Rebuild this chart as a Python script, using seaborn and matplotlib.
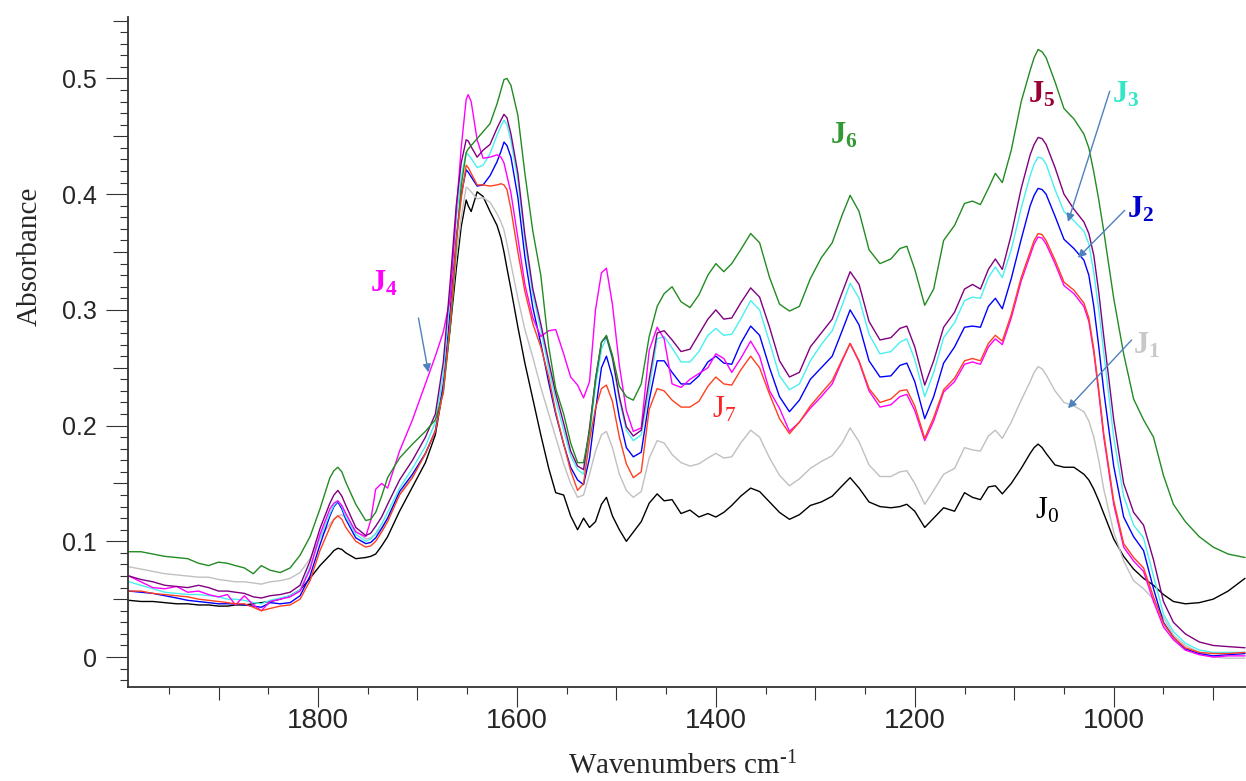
import numpy as np
import pandas as pd
import matplotlib
matplotlib.use("Agg")
import matplotlib.pyplot as plt
from matplotlib import font_manager as fm
from matplotlib.ticker import FixedLocator, FuncFormatter
import seaborn as sns

# ---------------------------------------------------------------- data
wavenumber = [
    1990, 1978, 1966, 1954, 1942, 1931, 1920, 1910, 1900, 1891, 1883, 1874, 1865, 1857, 1848, 1838, 1828, 1818,
    1808, 1798, 1788, 1784, 1780, 1776, 1772, 1762, 1752, 1747, 1742, 1736, 1730, 1718,
    1705, 1692, 1682, 1674, 1667, 1661, 1656, 1651, 1649, 1646, 1640,
    1634, 1627, 1620, 1616, 1613, 1610, 1606, 1599, 1592, 1584, 1576, 1568,
    1561, 1553, 1546, 1539, 1533, 1527, 1521, 1515, 1510, 1504,
    1497, 1490, 1483, 1475, 1467, 1459, 1452, 1444, 1435, 1426,
    1417, 1408, 1400, 1392, 1384, 1375, 1365, 1356, 1346, 1336,
    1326, 1316, 1305, 1294, 1283, 1273, 1265, 1256, 1246, 1235,
    1224, 1215, 1208, 1200, 1190, 1181, 1171, 1160, 1150, 1142,
    1134, 1126, 1119, 1112, 1103, 1093, 1084, 1080, 1076, 1072, 1068, 1059,
    1050, 1040, 1030, 1025, 1020, 1015, 1010, 1000, 990, 980, 970, 960,
    950, 940, 928, 914, 900, 885, 868,
]

j0 = [
    0.049, 0.048, 0.048, 0.047, 0.046, 0.046, 0.045, 0.045, 0.044, 0.044, 0.045, 0.045, 0.046, 0.047, 0.048, 0.050, 0.053, 0.058,
    0.068, 0.079, 0.088, 0.092, 0.094, 0.093, 0.090, 0.085, 0.086, 0.087, 0.089, 0.096, 0.104, 0.126,
    0.147, 0.168, 0.192, 0.233, 0.285, 0.335, 0.372, 0.395, 0.390, 0.385, 0.402,
    0.398, 0.385, 0.373, 0.362, 0.350, 0.336, 0.318, 0.285, 0.254, 0.223, 0.192, 0.163,
    0.142, 0.140, 0.122, 0.110, 0.120, 0.112, 0.117, 0.132, 0.138, 0.122,
    0.110, 0.100, 0.108, 0.117, 0.133, 0.141, 0.135, 0.136, 0.124, 0.127,
    0.121, 0.124, 0.121, 0.125, 0.131, 0.139, 0.146, 0.143, 0.134, 0.125,
    0.119, 0.123, 0.131, 0.134, 0.139, 0.148, 0.155, 0.146, 0.134, 0.130,
    0.129, 0.130, 0.132, 0.126, 0.112, 0.120, 0.129, 0.126, 0.142, 0.138,
    0.136, 0.147, 0.148, 0.141, 0.150, 0.163, 0.176, 0.181, 0.184, 0.181, 0.176, 0.166,
    0.164, 0.164, 0.158, 0.153, 0.145, 0.135, 0.124, 0.102, 0.087, 0.076, 0.068, 0.062,
    0.054, 0.048, 0.046, 0.047, 0.050, 0.057, 0.068,
]

j1 = [
    0.078, 0.076, 0.074, 0.072, 0.071, 0.070, 0.069, 0.069, 0.067, 0.066, 0.065, 0.065, 0.064, 0.063, 0.065, 0.066, 0.068, 0.073,
    0.085, 0.103, 0.115, 0.119, 0.122, 0.123, 0.120, 0.109, 0.102, 0.103, 0.106, 0.112, 0.120, 0.141,
    0.156, 0.175, 0.197, 0.238, 0.290, 0.345, 0.380, 0.406, 0.405, 0.402, 0.396,
    0.397, 0.393, 0.383, 0.376, 0.369, 0.357, 0.340, 0.310, 0.283, 0.259, 0.233, 0.210,
    0.190, 0.167, 0.150, 0.138, 0.140, 0.158, 0.178, 0.192, 0.195, 0.181,
    0.158, 0.144, 0.138, 0.143, 0.172, 0.187, 0.185, 0.175, 0.168, 0.165,
    0.167, 0.172, 0.176, 0.172, 0.173, 0.185, 0.196, 0.190, 0.172, 0.157,
    0.148, 0.154, 0.163, 0.169, 0.174, 0.185, 0.198, 0.186, 0.166, 0.156,
    0.156, 0.160, 0.161, 0.150, 0.132, 0.144, 0.158, 0.163, 0.181, 0.179,
    0.178, 0.191, 0.196, 0.189, 0.203, 0.222, 0.238, 0.246, 0.251, 0.249, 0.244, 0.230,
    0.220, 0.217, 0.212, 0.204, 0.190, 0.170, 0.145, 0.108, 0.083, 0.066, 0.059, 0.050,
    0.034, 0.019, 0.010, 0.004, 0.000, -0.001, -0.001,
]

j2 = [
    0.057, 0.056, 0.055, 0.053, 0.051, 0.049, 0.048, 0.047, 0.046, 0.046, 0.046, 0.045, 0.044, 0.043, 0.047, 0.046, 0.047, 0.053,
    0.070, 0.097, 0.122, 0.130, 0.134, 0.128, 0.119, 0.103, 0.098, 0.099, 0.103, 0.111, 0.120, 0.143,
    0.158, 0.176, 0.195, 0.235, 0.300, 0.362, 0.400, 0.421, 0.419, 0.415, 0.407,
    0.408, 0.416, 0.428, 0.437, 0.445, 0.442, 0.432, 0.397, 0.346, 0.302, 0.271, 0.237,
    0.210, 0.184, 0.164, 0.153, 0.149, 0.172, 0.213, 0.250, 0.260, 0.242,
    0.207, 0.181, 0.173, 0.177, 0.222, 0.256, 0.256, 0.246, 0.236, 0.236,
    0.243, 0.255, 0.260, 0.254, 0.253, 0.271, 0.286, 0.278, 0.250, 0.225,
    0.212, 0.222, 0.240, 0.250, 0.260, 0.282, 0.300, 0.287, 0.256, 0.242,
    0.243, 0.252, 0.254, 0.238, 0.206, 0.225, 0.254, 0.268, 0.285, 0.286,
    0.285, 0.303, 0.310, 0.301, 0.327, 0.361, 0.390, 0.399, 0.405, 0.404, 0.400, 0.381,
    0.361, 0.353, 0.343, 0.330, 0.303, 0.268, 0.230, 0.165, 0.121, 0.104, 0.092, 0.059,
    0.030, 0.017, 0.007, 0.003, 0.001, 0.002, 0.003,
]

j3 = [
    0.065, 0.062, 0.059, 0.056, 0.055, 0.054, 0.054, 0.053, 0.052, 0.050, 0.050, 0.049, 0.047, 0.046, 0.049, 0.051, 0.053, 0.058,
    0.078, 0.103, 0.124, 0.131, 0.135, 0.130, 0.121, 0.106, 0.100, 0.102, 0.107, 0.115, 0.125, 0.146,
    0.163, 0.182, 0.203, 0.245, 0.315, 0.378, 0.415, 0.436, 0.434, 0.431, 0.423,
    0.425, 0.435, 0.451, 0.459, 0.464, 0.460, 0.446, 0.412, 0.360, 0.313, 0.283, 0.249,
    0.222, 0.196, 0.174, 0.162, 0.158, 0.190, 0.234, 0.266, 0.276, 0.257,
    0.222, 0.196, 0.187, 0.192, 0.232, 0.275, 0.277, 0.267, 0.255, 0.255,
    0.264, 0.278, 0.284, 0.278, 0.279, 0.292, 0.308, 0.300, 0.272, 0.243,
    0.231, 0.236, 0.256, 0.270, 0.282, 0.304, 0.323, 0.310, 0.279, 0.262,
    0.264, 0.272, 0.275, 0.257, 0.225, 0.246, 0.276, 0.289, 0.308, 0.311,
    0.310, 0.328, 0.337, 0.328, 0.352, 0.388, 0.416, 0.426, 0.432, 0.431, 0.426, 0.404,
    0.385, 0.377, 0.368, 0.357, 0.332, 0.300, 0.263, 0.190, 0.139, 0.114, 0.103, 0.070,
    0.037, 0.022, 0.012, 0.006, 0.004, 0.004, 0.004,
]

j4 = [
    0.070, 0.065, 0.060, 0.059, 0.061, 0.056, 0.057, 0.054, 0.052, 0.054, 0.045, 0.053, 0.045, 0.040, 0.048, 0.050, 0.052, 0.057,
    0.076, 0.106, 0.128, 0.133, 0.135, 0.131, 0.124, 0.108, 0.104, 0.118, 0.145, 0.150, 0.146, 0.178,
    0.205, 0.236, 0.260, 0.281, 0.310, 0.385, 0.440, 0.482, 0.486, 0.480, 0.447,
    0.431, 0.432, 0.434, 0.432, 0.427, 0.416, 0.401, 0.362, 0.322, 0.293, 0.277, 0.282,
    0.283, 0.262, 0.242, 0.235, 0.224, 0.238, 0.300, 0.332, 0.336, 0.305,
    0.252, 0.213, 0.195, 0.198, 0.265, 0.285, 0.275, 0.236, 0.233, 0.240,
    0.245, 0.250, 0.262, 0.258, 0.246, 0.258, 0.273, 0.260, 0.230, 0.215,
    0.195, 0.203, 0.215, 0.225, 0.236, 0.256, 0.271, 0.255, 0.230, 0.216,
    0.218, 0.225, 0.227, 0.213, 0.187, 0.204, 0.229, 0.238, 0.253, 0.255,
    0.253, 0.268, 0.275, 0.270, 0.293, 0.325, 0.347, 0.357, 0.363, 0.362, 0.357, 0.340,
    0.321, 0.314, 0.303, 0.290, 0.263, 0.228, 0.190, 0.132, 0.095, 0.083, 0.074, 0.048,
    0.026, 0.015, 0.006, 0.002, 0.000, 0.001, 0.001,
]

j5 = [
    0.070, 0.067, 0.065, 0.062, 0.061, 0.060, 0.062, 0.060, 0.057, 0.057, 0.056, 0.055, 0.052, 0.051, 0.053, 0.054, 0.056, 0.062,
    0.083, 0.111, 0.133, 0.140, 0.144, 0.139, 0.131, 0.112, 0.105, 0.107, 0.113, 0.121, 0.132, 0.153,
    0.170, 0.190, 0.210, 0.255, 0.325, 0.390, 0.427, 0.447, 0.446, 0.441, 0.432,
    0.438, 0.443, 0.457, 0.464, 0.469, 0.466, 0.452, 0.418, 0.365, 0.318, 0.288, 0.255,
    0.228, 0.202, 0.178, 0.165, 0.162, 0.198, 0.240, 0.272, 0.277, 0.259,
    0.225, 0.199, 0.191, 0.196, 0.240, 0.280, 0.282, 0.274, 0.264, 0.266,
    0.279, 0.292, 0.300, 0.292, 0.293, 0.306, 0.319, 0.311, 0.285, 0.256,
    0.242, 0.246, 0.268, 0.280, 0.292, 0.315, 0.333, 0.322, 0.290, 0.274,
    0.276, 0.284, 0.286, 0.268, 0.235, 0.256, 0.285, 0.298, 0.318, 0.322,
    0.318, 0.335, 0.344, 0.335, 0.365, 0.405, 0.434, 0.443, 0.449, 0.448, 0.443, 0.423,
    0.400, 0.387, 0.376, 0.366, 0.347, 0.315, 0.277, 0.205, 0.150, 0.125, 0.114, 0.084,
    0.048, 0.030, 0.020, 0.013, 0.010, 0.009, 0.008,
]

j6 = [
    0.091, 0.091, 0.089, 0.087, 0.086, 0.085, 0.081, 0.079, 0.082, 0.081, 0.079, 0.077, 0.072, 0.079, 0.075, 0.073, 0.077, 0.088,
    0.104, 0.128, 0.155, 0.161, 0.164, 0.160, 0.151, 0.132, 0.118, 0.119, 0.125, 0.139, 0.155, 0.172,
    0.184, 0.195, 0.205, 0.228, 0.285, 0.355, 0.407, 0.436, 0.439, 0.442, 0.448,
    0.454, 0.461, 0.478, 0.490, 0.499, 0.500, 0.494, 0.468, 0.418, 0.368, 0.330, 0.268,
    0.232, 0.210, 0.185, 0.168, 0.168, 0.195, 0.240, 0.272, 0.278, 0.261,
    0.234, 0.225, 0.222, 0.236, 0.277, 0.303, 0.314, 0.320, 0.307, 0.302,
    0.313, 0.330, 0.340, 0.333, 0.340, 0.352, 0.366, 0.358, 0.328, 0.305,
    0.299, 0.303, 0.327, 0.345, 0.358, 0.382, 0.399, 0.385, 0.352, 0.340,
    0.344, 0.353, 0.355, 0.335, 0.304, 0.318, 0.360, 0.373, 0.392, 0.394,
    0.391, 0.405, 0.418, 0.410, 0.438, 0.480, 0.507, 0.518, 0.525, 0.523, 0.518, 0.497,
    0.474, 0.465, 0.452, 0.440, 0.419, 0.395, 0.368, 0.310, 0.262, 0.223, 0.205, 0.190,
    0.157, 0.132, 0.117, 0.104, 0.095, 0.089, 0.086,
]

j7 = [
    0.057, 0.057, 0.055, 0.054, 0.053, 0.052, 0.050, 0.049, 0.048, 0.047, 0.046, 0.046, 0.043, 0.040, 0.042, 0.044, 0.045, 0.050,
    0.066, 0.092, 0.112, 0.119, 0.122, 0.119, 0.112, 0.100, 0.095, 0.096, 0.100, 0.108, 0.117, 0.140,
    0.155, 0.176, 0.195, 0.230, 0.290, 0.360, 0.396, 0.425, 0.423, 0.418, 0.408,
    0.408, 0.407, 0.408, 0.409, 0.408, 0.404, 0.387, 0.350, 0.316, 0.288, 0.268, 0.242,
    0.212, 0.184, 0.161, 0.144, 0.150, 0.187, 0.215, 0.232, 0.235, 0.221,
    0.190, 0.167, 0.155, 0.160, 0.214, 0.232, 0.230, 0.222, 0.216, 0.216,
    0.221, 0.234, 0.242, 0.236, 0.235, 0.248, 0.260, 0.250, 0.227, 0.206,
    0.193, 0.203, 0.217, 0.228, 0.239, 0.257, 0.271, 0.256, 0.232, 0.220,
    0.223, 0.230, 0.231, 0.217, 0.189, 0.207, 0.231, 0.241, 0.256, 0.258,
    0.256, 0.271, 0.278, 0.273, 0.296, 0.328, 0.350, 0.360, 0.366, 0.365, 0.360, 0.343,
    0.324, 0.317, 0.306, 0.293, 0.266, 0.231, 0.193, 0.135, 0.098, 0.086, 0.077, 0.052,
    0.029, 0.017, 0.008, 0.004, 0.003, 0.003, 0.004,
]

samples = ["J0", "J1", "J2", "J3", "J4", "J5", "J6", "J7"]
spectra = [j0, j1, j2, j3, j4, j5, j6, j7]
line_colors = ["#000000", "#c0c0c0", "#0000ff", "#48f0f0",
               "#ff00ff", "#800080", "#228b22", "#ff4020"]

# label text, left/baseline anchor (wavenumber, absorbance), colour, bold, arrow (tail, head)
labels = [
    ("J", "4", (1748, 0.316), "#ff00ff", True, ((1699, 0.293), (1689, 0.246))),
    ("J", "6", (1285, 0.444), "#339933", True, None),
    ("J", "5", (1086, 0.479), "#990033", True, None),
    ("J", "3", (1002, 0.479), "#33e6c8", True, ((1004, 0.489), (1046, 0.376))),
    ("J", "2", (987, 0.380), "#0000cc", True, ((989, 0.386), (1036, 0.345))),
    ("J", "1", (981, 0.262), "#c8c8c8", True, ((982, 0.274), (1046, 0.215))),
    ("J", "0", (1079, 0.120), "#000000", False, None),
    ("J", "7", (1404, 0.207), "#ff2222", False, None),
]

# ---------------------------------------------------------------- style
sns.set_style("ticks")
names = {f.name for f in fm.fontManager.ttflist}
tick_font_x = "Liberation Sans Narrow" if "Liberation Sans Narrow" in names else "Liberation Sans"
plt.rcParams["font.family"] = ["Liberation Sans", "DejaVu Sans"]
plt.rcParams["mathtext.fontset"] = "custom"
plt.rcParams["mathtext.rm"] = "Liberation Serif"
plt.rcParams["mathtext.it"] = "Liberation Serif:italic"
plt.rcParams["mathtext.bf"] = "Liberation Serif:bold"

frames = []
for name, values in zip(samples, spectra):
    assert len(values) == len(wavenumber)
    frames.append(pd.DataFrame({"wavenumber": wavenumber, "absorbance": values, "sample": name}))
df = pd.concat(frames, ignore_index=True)

W, H = 1246, 781
fig = plt.figure(figsize=(W / 100, H / 100), dpi=100)
ax = fig.add_axes([128 / W, 1 - 687 / H, 1 - 128 / W, (687 - 17) / H])

sns.lineplot(data=df, x="wavenumber", y="absorbance", hue="sample",
             palette=dict(zip(samples, line_colors)), estimator=None,
             sort=False, legend=False, linewidth=1.0, ax=ax)

ax.set_xlim(1991, 867)
ax.set_ylim(-0.0259, 0.5531)
ax.set_xlabel("")
ax.set_ylabel("")

sns.despine(ax=ax)
for side in ("left", "bottom"):
    ax.spines[side].set_linewidth(1.3)
    ax.spines[side].set_color("#333333")

# x ticks: labelled every 200, medium every 100, short every 50
ax.xaxis.set_major_locator(FixedLocator([1800, 1600, 1400, 1200, 1000]))
ax.xaxis.set_major_formatter(FuncFormatter(lambda v, p: f"{v:.0f}"))
x_minor = [v for v in range(900, 1951, 50) if v % 200 != 0]
ax.xaxis.set_minor_locator(FixedLocator(x_minor))
ax.tick_params(axis="x", which="major", direction="out", length=14.4, width=0.8,
               color="#333333", pad=1, labelsize=20)
ax.tick_params(axis="x", which="minor", direction="out", length=5, width=0.8, color="#333333")
for t in ax.xaxis.get_ticklabels():
    t.set_fontfamily(tick_font_x)
for tick, loc in zip(ax.xaxis.get_minor_ticks(len(x_minor)), x_minor):
    tick.tick1line.set_markersize(9.4 if loc % 100 == 0 else 5)

# y ticks: labelled every 0.1, medium every 0.05, short every 0.01
ax.yaxis.set_major_locator(FixedLocator([0, 0.1, 0.2, 0.3, 0.4, 0.5]))
ax.yaxis.set_major_formatter(FuncFormatter(lambda v, p: f"{v:g}"))
y_minor = [round(k * 0.01, 2) for k in range(-2, 56) if k % 10 != 0]
ax.yaxis.set_minor_locator(FixedLocator(y_minor))
ax.tick_params(axis="y", which="major", direction="out", length=15.8, width=0.8,
               color="#333333", pad=6.5, labelsize=18)
ax.tick_params(axis="y", which="minor", direction="out", length=5.8, width=0.8, color="#333333")
for tick, loc in zip(ax.yaxis.get_minor_ticks(len(y_minor)), y_minor):
    tick.tick1line.set_markersize(10.8 if round(loc * 100) % 5 == 0 else 5.8)

# axis titles
fig.text(30 / W, 1 - 256 / H, "Absorbance", rotation=90, ha="center", va="center",
         fontsize=21, family="Liberation Serif")
fig.text(683 / W, 1 - 766 / H, r"Wavenumbers cm$^{\text{-}1}$", ha="center", va="center",
         fontsize=21, family="Liberation Serif")

# sample labels and pointer arrows
for main, sub, (xw, ya), color, bold, arrow in labels:
    if bold:
        s = r"$\mathbf{%s}_{\mathbf{%s}}$" % (main, sub)
    else:
        s = r"$\mathrm{%s}_{\mathrm{%s}}$" % (main, sub)
    ax.text(xw, ya, s, color=color, fontsize=22, ha="left", va="baseline")
    if arrow is not None:
        (x0, y0), (x1, y1) = arrow
        ax.annotate("", xy=(x1, y1), xytext=(x0, y0),
                    arrowprops=dict(arrowstyle="-|>", color="#4f81bd", lw=1.0,
                                    mutation_scale=12, shrinkA=0, shrinkB=0))

fig.savefig("out.png", dpi=100)
